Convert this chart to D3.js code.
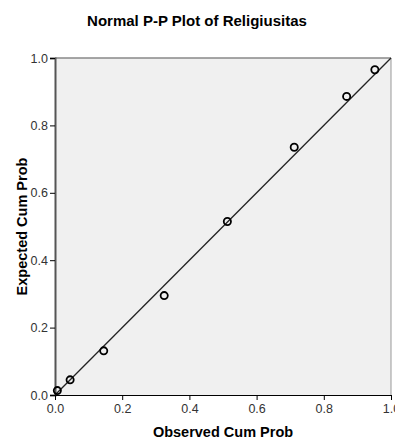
<!DOCTYPE html>
<html>
<head>
<meta charset="utf-8">
<script src="https://cdn.jsdelivr.net/npm/d3@7"></script>
<style>
	body { margin: 0; background: #fff; }
	svg { display: block; font-family: "Liberation Sans", Arial, sans-serif; }
</style>
</head>
<body>
<script>
// observed vs expected cumulative probabilities
var observed = [0.007, 0.045, 0.145, 0.325, 0.513, 0.712, 0.868, 0.952];
var expected = [0.013, 0.045, 0.131, 0.295, 0.515, 0.735, 0.886, 0.965];
var ticks = [0.0, 0.2, 0.4, 0.6, 0.8, 1.0];

var width = 395, height = 439;
var margin = {top: 58, right: 4, bottom: 44, left: 55};
var w = 391 - margin.left, h = 395 - margin.top;

var svg = d3.select(document.body).append('svg')
	.attr('width', width)
	.attr('height', height);

svg.append('text')
	.attr('x', 197)
	.attr('y', 26)
	.attr('text-anchor', 'middle')
	.style('font-size', '15px')
	.style('font-weight', 'bold')
	.text('Normal P-P Plot of Religiusitas');

var g = svg.append('g')
	.attr('transform', 'translate(' + margin.left + ',' + margin.top + ')');

var x = d3.scaleLinear().domain([0, 1]).range([0, w]);
var y = d3.scaleLinear().domain([0, 1]).range([h, 0]);

g.append('rect')
	.attr('width', w)
	.attr('height', h)
	.attr('fill', '#f0f0f0');

// frame
g.append('line').attr('x1', 0).attr('x2', w).attr('y1', 0).attr('y2', 0)
	.attr('stroke', '#888').attr('stroke-width', 1.5);
g.append('line').attr('x1', w).attr('x2', w).attr('y1', 0).attr('y2', h)
	.attr('stroke', '#999').attr('stroke-width', 1);

var fmt = d3.format('.1f');

var yAxis = g.append('g')
	.call(d3.axisLeft(y).tickValues(ticks).tickFormat(fmt).tickSize(5).tickPadding(2));
yAxis.select('.domain').attr('stroke', '#555').attr('stroke-width', 2);

var xAxis = g.append('g')
	.attr('transform', 'translate(0,' + h + ')')
	.call(d3.axisBottom(x).tickValues(ticks).tickFormat(fmt).tickSize(5).tickPadding(4));
xAxis.select('.domain').attr('stroke', '#000').attr('stroke-width', 1);

svg.selectAll('.tick text')
	.attr('fill', '#333')
	.style('font-size', '12.5px')
	.style('font-family', '"Liberation Sans", Arial, sans-serif');
svg.selectAll('.tick line').attr('stroke', '#000');

// reference line
g.append('line')
	.attr('x1', x(0)).attr('y1', y(0))
	.attr('x2', x(1)).attr('y2', y(1))
	.attr('stroke', '#222')
	.attr('stroke-width', 1.3);

g.selectAll('circle.pt')
	.data(observed)
	.enter().append('circle')
	.attr('class', 'pt')
	.attr('cx', function(d) { return x(d); })
	.attr('cy', function(d, i) { return y(expected[i]); })
	.attr('r', 3.6)
	.attr('fill', 'none')
	.attr('stroke', '#000')
	.attr('stroke-width', 1.8);

svg.append('text')
	.attr('x', margin.left + w / 2)
	.attr('y', 437)
	.attr('text-anchor', 'middle')
	.style('font-size', '14.5px')
	.style('font-weight', 'bold')
	.text('Observed Cum Prob');

svg.append('text')
	.attr('transform', 'translate(27,' + (margin.top + h / 2) + ') rotate(-90)')
	.attr('text-anchor', 'middle')
	.style('font-size', '14.5px')
	.style('font-weight', 'bold')
	.text('Expected Cum Prob');
</script>
</body>
</html>
